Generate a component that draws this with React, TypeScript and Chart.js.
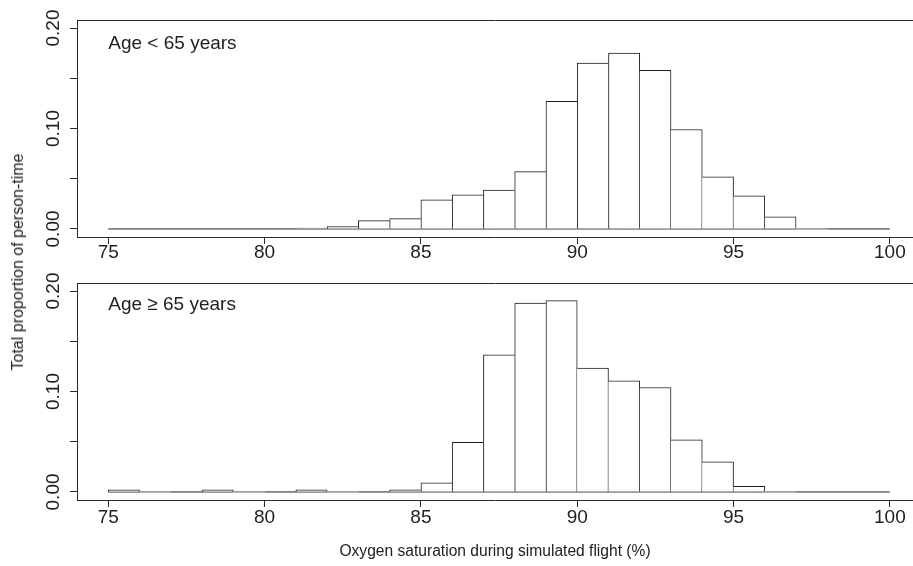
import React, { useEffect, useRef } from 'react';
import { Chart, registerables } from 'chart.js';

Chart.register(...registerables);

// ---- data ----
const binStarts = [75, 76, 77, 78, 79, 80, 81, 82, 83, 84, 85, 86, 87, 88, 89, 90, 91, 92, 93, 94, 95, 96, 97, 98, 99];
const binWidth = 1;
const under65 = [0, 0, 0, 0, 0, 0, 0.001, 0.0024, 0.0083, 0.0103, 0.029, 0.034, 0.0387, 0.057, 0.127, 0.165, 0.175, 0.158, 0.099, 0.052, 0.033, 0.012, 0, 0, 0];
const over65 = [0.002, 0, 0, 0.002, 0, 0, 0.002, 0, 0, 0.002, 0.009, 0.0495, 0.1365, 0.188, 0.1905, 0.1233, 0.1107, 0.104, 0.0518, 0.03, 0.0057, 0, 0, 0, 0];
const xTicks = [75, 80, 85, 90, 95, 100];
const yTicks = [0, 0.05, 0.1, 0.15, 0.2];
const yLabelTicks = [0, 0.1, 0.2];
const labelUnder = 'Age < 65 years';
const labelOver = 'Age \u2265 65 years';
const xTitle = 'Oxygen saturation during simulated flight (%)';
const yTitle = 'Total proportion of person-time';

// ---- style ----
const FONT = '"Liberation Sans", Arial, Helvetica, sans-serif';
const LINE = '#2a2a2a';
const BAR_LINE = '#1e1e1e';
const TEXT = '#222222';
const TICK_SIZE = 19;
const TITLE_SIZE = 15.6;
const X_MIN = 74;
const X_MAX = 100.74;
const Y_MIN = -0.008;
const Y_MAX = 0.208;

type PanelProps = {
  values: number[];
  label: string;
  labelY: number;
  height: number;
  top: number;
  padTop: number;
  axisH: number;
  tickPad: number;
  title?: string;
};

function Panel({ values, label, labelY, height, top, padTop, axisH, tickPad, title }: PanelProps) {
  const ref = useRef<HTMLCanvasElement | null>(null);

  useEffect(() => {
    if (!ref.current) return;
    const barData = binStarts.map((b, i) => ({ x: b + binWidth / 2, y: values[i] }));
    const lastEdge = binStarts[binStarts.length - 1] + binWidth;
    const baseData = [
      { x: binStarts[0], y: 0 },
      { x: lastEdge, y: 0 },
    ];

    const labelPlugin = {
      id: 'panelLabel',
      afterDatasetsDraw(chart: any) {
        const { ctx, scales } = chart;
        ctx.save();
        ctx.font = `${TICK_SIZE}px ${FONT}`;
        ctx.fillStyle = TEXT;
        ctx.textAlign = 'left';
        ctx.textBaseline = 'middle';
        ctx.fillText(label, scales.x.getPixelForValue(binStarts[0]), scales.y.getPixelForValue(labelY));
        ctx.restore();
      },
    };

    const chart = new Chart(ref.current, {
      type: 'bar',
      data: {
        datasets: [
          {
            type: 'bar',
            data: barData as any,
            xAxisID: 'x',
            yAxisID: 'y',
            backgroundColor: '#ffffff',
            borderColor: BAR_LINE,
            borderSkipped: false,
            barPercentage: 1,
            categoryPercentage: 1,
            borderWidth: (c: any) => {
              if (c.type !== 'data') return 1;
              const i = c.dataIndex;
              const v = values[i];
              const prev = i > 0 ? values[i - 1] : 0;
              const next = i < values.length - 1 ? values[i + 1] : 0;
              return { top: 1, bottom: 0, left: prev <= v ? 1 : 0, right: next < v ? 1 : 0 };
            },
          } as any,
          {
            type: 'line',
            data: baseData as any,
            xAxisID: 'x',
            yAxisID: 'y',
            borderColor: BAR_LINE,
            borderWidth: 1,
            pointRadius: 0,
            tension: 0,
            fill: false,
          } as any,
        ],
      },
      options: {
        animation: false,
        responsive: false,
        maintainAspectRatio: false,
        layout: { padding: { top: padTop, left: 0, right: 0, bottom: 0 } },
        font: { family: FONT, size: TICK_SIZE },
        plugins: {
          legend: { display: false },
          tooltip: { enabled: false },
          title: { display: false },
        },
        scales: {
          x: {
            type: 'linear',
            position: 'bottom',
            min: X_MIN,
            max: X_MAX,
            bounds: 'data',
            offset: false,
            grid: { display: true, drawOnChartArea: false, drawTicks: true, tickLength: 7, tickColor: LINE, offset: false },
            border: { display: true, color: LINE, width: 1 },
            ticks: {
              color: TEXT,
              font: { family: FONT, size: TICK_SIZE },
              padding: tickPad,
              maxRotation: 0,
              minRotation: 0,
              autoSkip: false,
              callback: (v: any) => String(v),
            },
            afterBuildTicks: (s: any) => {
              s.ticks = xTicks.map((v) => ({ value: v }));
            },
            afterFit: (s: any) => {
              s.height = axisH;
            },
            title: title
              ? { display: true, text: title, color: TEXT, font: { family: FONT, size: TITLE_SIZE }, padding: { top: 0, bottom: 5 } }
              : { display: false },
          },
          xTop: {
            type: 'linear',
            position: 'top',
            min: X_MIN,
            max: X_MAX,
            bounds: 'data',
            offset: false,
            grid: { display: false },
            ticks: { display: false },
            border: { display: true, color: LINE, width: 1 },
            afterFit: (s: any) => {
              s.height = 0;
            },
          },
          y: {
            type: 'linear',
            position: 'left',
            min: Y_MIN,
            max: Y_MAX,
            bounds: 'data',
            grid: { display: true, drawOnChartArea: false, drawTicks: true, tickLength: 7, tickColor: LINE },
            border: { display: true, color: LINE, width: 1 },
            ticks: {
              color: TEXT,
              font: { family: FONT, size: TICK_SIZE },
              padding: -2,
              minRotation: 90,
              maxRotation: 90,
              crossAlign: 'center',
              autoSkip: false,
              callback: (v: any) => (yLabelTicks.some((t) => Math.abs(t - v) < 1e-9) ? Number(v).toFixed(2) : ''),
            },
            afterBuildTicks: (s: any) => {
              s.ticks = yTicks.map((v) => ({ value: v }));
            },
            afterFit: (s: any) => {
              s.width = 77;
            },
          },
        },
      } as any,
      plugins: [labelPlugin],
    });
    return () => chart.destroy();
  }, [values, label, labelY, height, padTop, axisH, tickPad, title]);

  return (
    <canvas
      ref={ref}
      width={913}
      height={height}
      style={{ position: 'absolute', left: 0, top, width: 913, height, display: 'block' }}
    />
  );
}

export default function App() {
  return (
    <div style={{ position: 'absolute', left: 0, top: 0, width: 913, height: 566, background: '#ffffff', overflow: 'hidden' }}>
      <Panel values={under65} label={labelUnder} labelY={0.184} height={270} top={0} padTop={20} axisH={33} tickPad={-3} />
      <Panel values={over65} label={labelOver} labelY={0.186} height={296} top={270} padTop={13} axisH={66} tickPad={-1} title={xTitle} />
      <div
        style={{
          position: 'absolute',
          left: 18,
          top: 262,
          transform: 'translate(-50%, -50%) rotate(-90deg)',
          whiteSpace: 'nowrap',
          fontFamily: FONT,
          fontSize: 16,
          color: TEXT,
          lineHeight: 1,
        }}
      >
        {yTitle}
      </div>
    </div>
  );
}
